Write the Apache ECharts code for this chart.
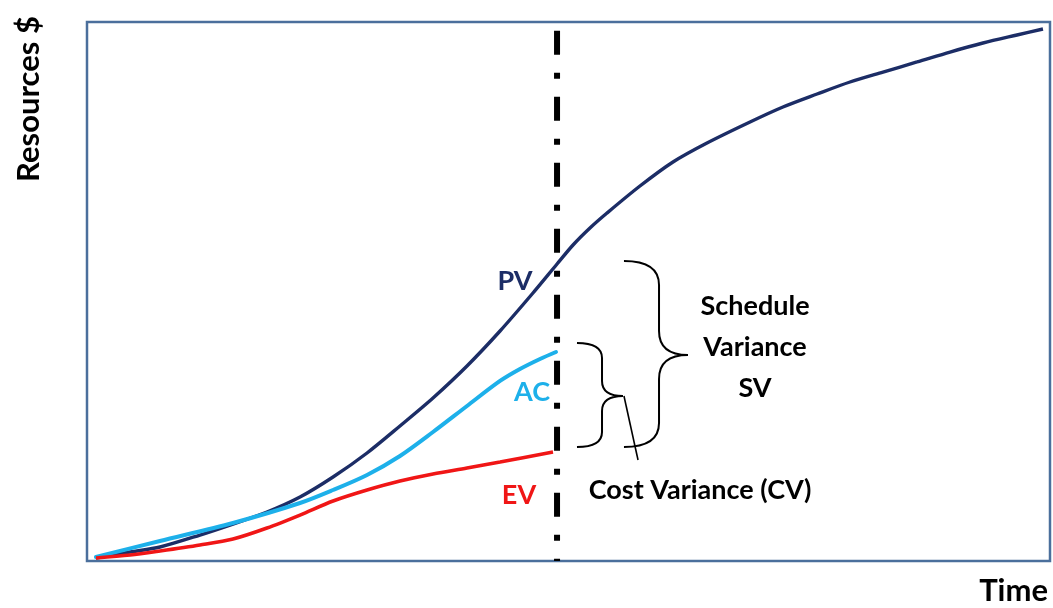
<!DOCTYPE html>
<html>
<head>
<meta charset="utf-8">
<script src="https://cdn.jsdelivr.net/npm/echarts@6/dist/echarts.min.js"></script>
<style>
html,body{margin:0;padding:0;background:#fff;}
#chart{width:1053px;height:608px;}
</style>
</head>
<body>
<div id="chart"></div>
<script>
// ---- Data (time and resources as % of the plotted range) ----
const pvTime  = [0.93, 4.47, 7.58, 11.73, 15.16, 18.69, 22.12, 25.55, 29.08, 32.50, 35.93, 39.46, 42.89, 46.31, 48.81, 50.47, 52.23, 54.00, 57.42, 60.85, 64.38, 68.85, 72.27, 75.81, 79.23, 82.66, 86.19, 89.62, 93.04, 96.57, 99.27];
const pvValue = [0.56, 1.67, 2.60, 4.82, 6.86, 9.09, 11.87, 15.58, 20.04, 25.05, 30.24, 36.18, 42.67, 49.72, 55.10, 58.63, 61.78, 64.56, 69.57, 74.03, 77.55, 81.45, 84.23, 86.64, 88.87, 90.72, 92.58, 94.43, 96.10, 97.59, 98.70];

const acTime  = [0.93, 7.58, 15.16, 22.12, 25.55, 29.08, 32.50, 35.93, 39.46, 42.89, 44.96, 47.04, 48.70];
const acValue = [0.74, 3.71, 7.05, 10.76, 13.17, 15.96, 19.48, 23.93, 28.76, 33.40, 35.62, 37.48, 38.78];

const evTime  = [0.93, 4.47, 7.58, 11.73, 15.16, 18.69, 22.12, 25.55, 29.08, 32.50, 35.93, 39.46, 42.89, 48.39];
const evValue = [0.56, 1.11, 1.86, 2.97, 4.08, 6.12, 8.53, 11.13, 13.17, 14.84, 16.14, 17.25, 18.37, 20.22];

const statusTime = 48.81;           // status date (dash-dot line)
const seriesNames = ['PV', 'AC', 'EV'];
const annotationTexts = ['Schedule\nVariance\nSV', 'Cost Variance (CV)'];
const axisTitles = ['Resources $', 'Time'];

const zip = (a, b) => a.map((x, i) => [x, b[i]]);
const FONT = 'Lato, "Open Sans", sans-serif';
const NAVY = '#1c2d66', BLUE = '#1db0ea', RED = '#f01616';

const chart = echarts.init(document.getElementById('chart'), null, {renderer: 'canvas'});

function braceItem(params, api) {
  const tip = api.coord([api.value(0), api.value(3)]);
  const spine = api.coord([api.value(1), api.value(4)]);
  const pt = api.coord([api.value(2), api.value(4)]);
  const bot = api.coord([api.value(0), api.value(5)]);
  const x0 = tip[0], xv = spine[0], xp = pt[0];
  const y0 = tip[1], ym = spine[1], y1 = bot[1];
  const r = api.value(6);
  const path = `M${x0},${y0} Q${xv},${y0} ${xv},${y0 + r} L${xv},${ym - r} Q${xv},${ym} ${xp},${ym} Q${xv},${ym} ${xv},${ym + r} L${xv},${y1 - r} Q${xv},${y1} ${x0},${y1}`;
  return {
    type: 'path',
    shape: {pathData: path},
    style: {fill: null, stroke: '#000', lineWidth: 2}
  };
}

const option = {
  animation: false,
  backgroundColor: '#fff',
  grid: {left: 87, right: 3, top: 22, bottom: 47, show: true, borderColor: '#4b6f9c', borderWidth: 2.5, backgroundColor: 'transparent'},
  xAxis: {type: 'value', min: 0, max: 100, show: false},
  yAxis: {type: 'value', min: 0, max: 100, show: false},
  series: [
    {
      name: 'status', type: 'line', silent: true, symbol: 'none', z: 1,
      data: [[statusTime, 100], [statusTime, 0]],
      lineStyle: {color: '#000', width: 6, type: [24, 18, 6, 18], dashOffset: 57.3, cap: 'butt'}
    },
    {
      name: seriesNames[0], type: 'line', smooth: 0.3, showSymbol: false, z: 3,
      data: zip(pvTime, pvValue),
      lineStyle: {color: NAVY, width: 3.4}
    },
    {
      name: seriesNames[1], type: 'line', smooth: 0.3, showSymbol: false, z: 4,
      data: zip(acTime, acValue),
      lineStyle: {color: BLUE, width: 4, cap: 'round'}
    },
    {
      name: seriesNames[2], type: 'line', smooth: 0.3, showSymbol: false, z: 5,
      data: zip(evTime, evValue),
      lineStyle: {color: RED, width: 3.5}
    },
    {
      name: 'braces', type: 'custom', silent: true, z: 6,
      renderItem: braceItem,
      encode: {x: 0, y: 3},
      data: [
        [55.76, 59.40, 62.41, 55.66, 38.22, 21.15, 24],
        [50.88, 53.48, 55.66, 40.45, 30.61, 21.15, 15]
      ]
    },
    {
      name: 'leader', type: 'line', silent: true, symbol: 'none', z: 6,
      data: [[55.76, 30.61], [57.22, 18.74]],
      lineStyle: {color: '#000', width: 1.6}
    },
    {
      name: 'labels', type: 'scatter', silent: true, symbolSize: 0, z: 10,
      itemStyle: {opacity: 1},
      label: {show: true, position: 'inside', formatter: p => p.name, fontFamily: FONT, fontWeight: 'bold', fontSize: 27, align: 'center', verticalAlign: 'middle', opacity: 1},
      data: [
        {name: seriesNames[0], value: [44.44, 51.95], label: {color: NAVY}},
        {name: seriesNames[1], value: [46.21, 31.35], label: {color: BLUE}},
        {name: seriesNames[2], value: [44.86, 12.24], label: {color: RED}},
        {name: annotationTexts[0], value: [69.37, 39.70], label: {color: '#000', lineHeight: 41}},
        {name: annotationTexts[1], value: [63.66, 13.17], label: {color: '#000'}}
      ]
    }
  ],
  graphic: [
    {type: 'text', x: 29, y: 99, rotation: Math.PI / 2, silent: true,
      style: {text: axisTitles[0], font: 'bold 31px ' + FONT, fill: '#000', textAlign: 'center', textVerticalAlign: 'middle'}},
    {type: 'text', x: 1048, y: 591, silent: true,
      style: {text: axisTitles[1], font: 'bold 31px ' + FONT, fill: '#000', textAlign: 'right', textVerticalAlign: 'middle'}}
  ]
};
chart.setOption(option);
</script>
</body>
</html>
